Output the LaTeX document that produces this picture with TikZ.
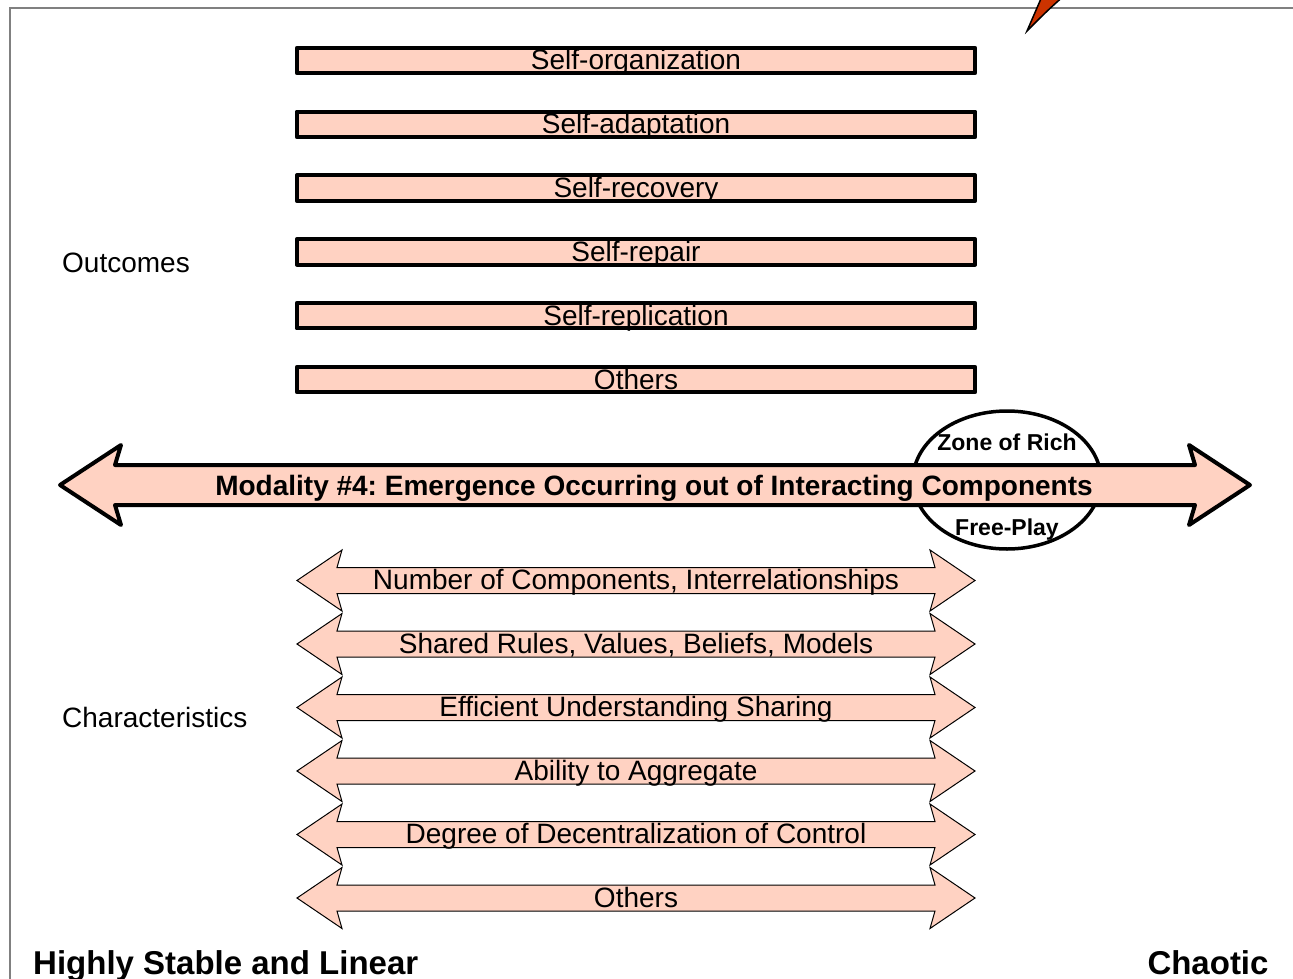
\documentclass[tikz,border=0pt]{standalone}
\usepackage{fontspec}
\setmainfont{Liberation Sans}
\usetikzlibrary{shapes.geometric}
\definecolor{salmon}{RGB}{255,210,194}
\definecolor{flame}{RGB}{204,51,0}
\definecolor{framegray}{RGB}{128,128,128}
\frenchspacing

% double-headed block arrow, centred on the pic origin:
% #1 tip offset, #2 head corner offset, #3 shaft end offset,
% #4 half head height, #5 half shaft height
\tikzset{
  pics/dblarrow/.style n args={5}{code={
    \path[pic actions] (-#1,0) -- (-#2,-#4) -- (-#3,-#5) -- (#3,-#5) -- (#2,-#4)
      -- (#1,0) -- (#2,#4) -- (#3,#5) -- (-#3,#5) -- (-#2,#4) -- cycle;
  }}
}

\begin{document}
\begin{tikzpicture}[x=1pt,y=-1pt,
  lbl/.style={anchor=base, inner sep=0pt, font=\fontsize{28}{30}\selectfont},
  boldlbl/.style={anchor=base, inner sep=0pt, font=\fontsize{28}{30}\selectfont\bfseries},
  zonelbl/.style={anchor=base, inner sep=0pt, font=\fontsize{23}{25}\selectfont\bfseries},
  endlbl/.style={anchor=base, inner sep=0pt, font=\fontsize{33}{35}\selectfont\bfseries},
  outbar/.style={fill=salmon, minimum width=678pt, minimum height=25pt, inner sep=0pt},
  outedge/.style={draw=black, line width=4pt, line join=round},
  charrow/.style={draw=black, fill=salmon, line width=1pt, line join=miter},
  bigarrow/.style={draw=black, fill=salmon, line width=4pt, line join=round},
  zonestyle/.style={ellipse, draw=black, line width=3.5pt, fill=white,
    minimum width=188pt, minimum height=138pt, inner sep=0pt}
]
\useasboundingbox (0,0) rectangle (1293,979);

% slide frame
\draw[framegray, line width=1.5pt] (10,990) -- (10,8) -- (1300,8);

% flame-coloured pointer at the top edge
\draw[fill=flame, line width=1.5pt, line join=miter]
  (1027,31) -- (1043,-6) -- (1066,-6) .. controls (1048,10) .. (1027,31) -- cycle;

% outcomes
\node[lbl, anchor=base west] (outcomes) at (62,272) {Outcomes};
\foreach \i/\txt in {0/Self-organization, 1/Self-adaptation, 2/Self-recovery,
                     3/Self-repair, 4/Self-replication, 5/Others} {
  \pgfmathsetmacro{\yc}{60.5+63.8*\i}
  \node[outbar] (bar\i) at (636,\yc) {};
  \node[lbl] (bartxt\i) at (636,\yc+9.5) {\txt};
  \draw[outedge] (bar\i.south west) rectangle (bar\i.north east);
}

% zone of rich free-play behind the modality arrow
\node[zonestyle] (zone) at (1007,480) {};

% modality arrow
\pic[bigarrow] (modality) at (655,485) {dblarrow={595}{534}{540}{40}{20}};
\node[boldlbl] (modtxt) at (654,495)
  {Modality \#4: Emergence Occurring out of Interacting Components};
\node[zonelbl] (zonetop) at (1007,450) {Zone of Rich};
\node[zonelbl] (zonebot) at (1007,535) {Free-Play};

% characteristics
\node[lbl, anchor=base west] (characteristics) at (62,727) {Characteristics};
\foreach \i/\txt in {0/{Number of Components, Interrelationships},
                     1/{Shared Rules, Values, Beliefs, Models},
                     2/{Efficient Understanding Sharing},
                     3/{Ability to Aggregate},
                     4/{Degree of Decentralization of Control},
                     5/{Others}} {
  \pgfmathsetmacro{\yc}{580.5+63.5*\i}
  \pic[charrow] (char\i) at (636,\yc) {dblarrow={339}{294}{299}{30.5}{13}};
  \node[lbl] (chartxt\i) at (636,\yc+9) {\txt};
}

% scale end labels
\node[endlbl, anchor=base west] (stable) at (33,974) {Highly Stable and Linear};
\node[endlbl] (chaotic) at (1208,974) {Chaotic};
\end{tikzpicture}
\end{document}
